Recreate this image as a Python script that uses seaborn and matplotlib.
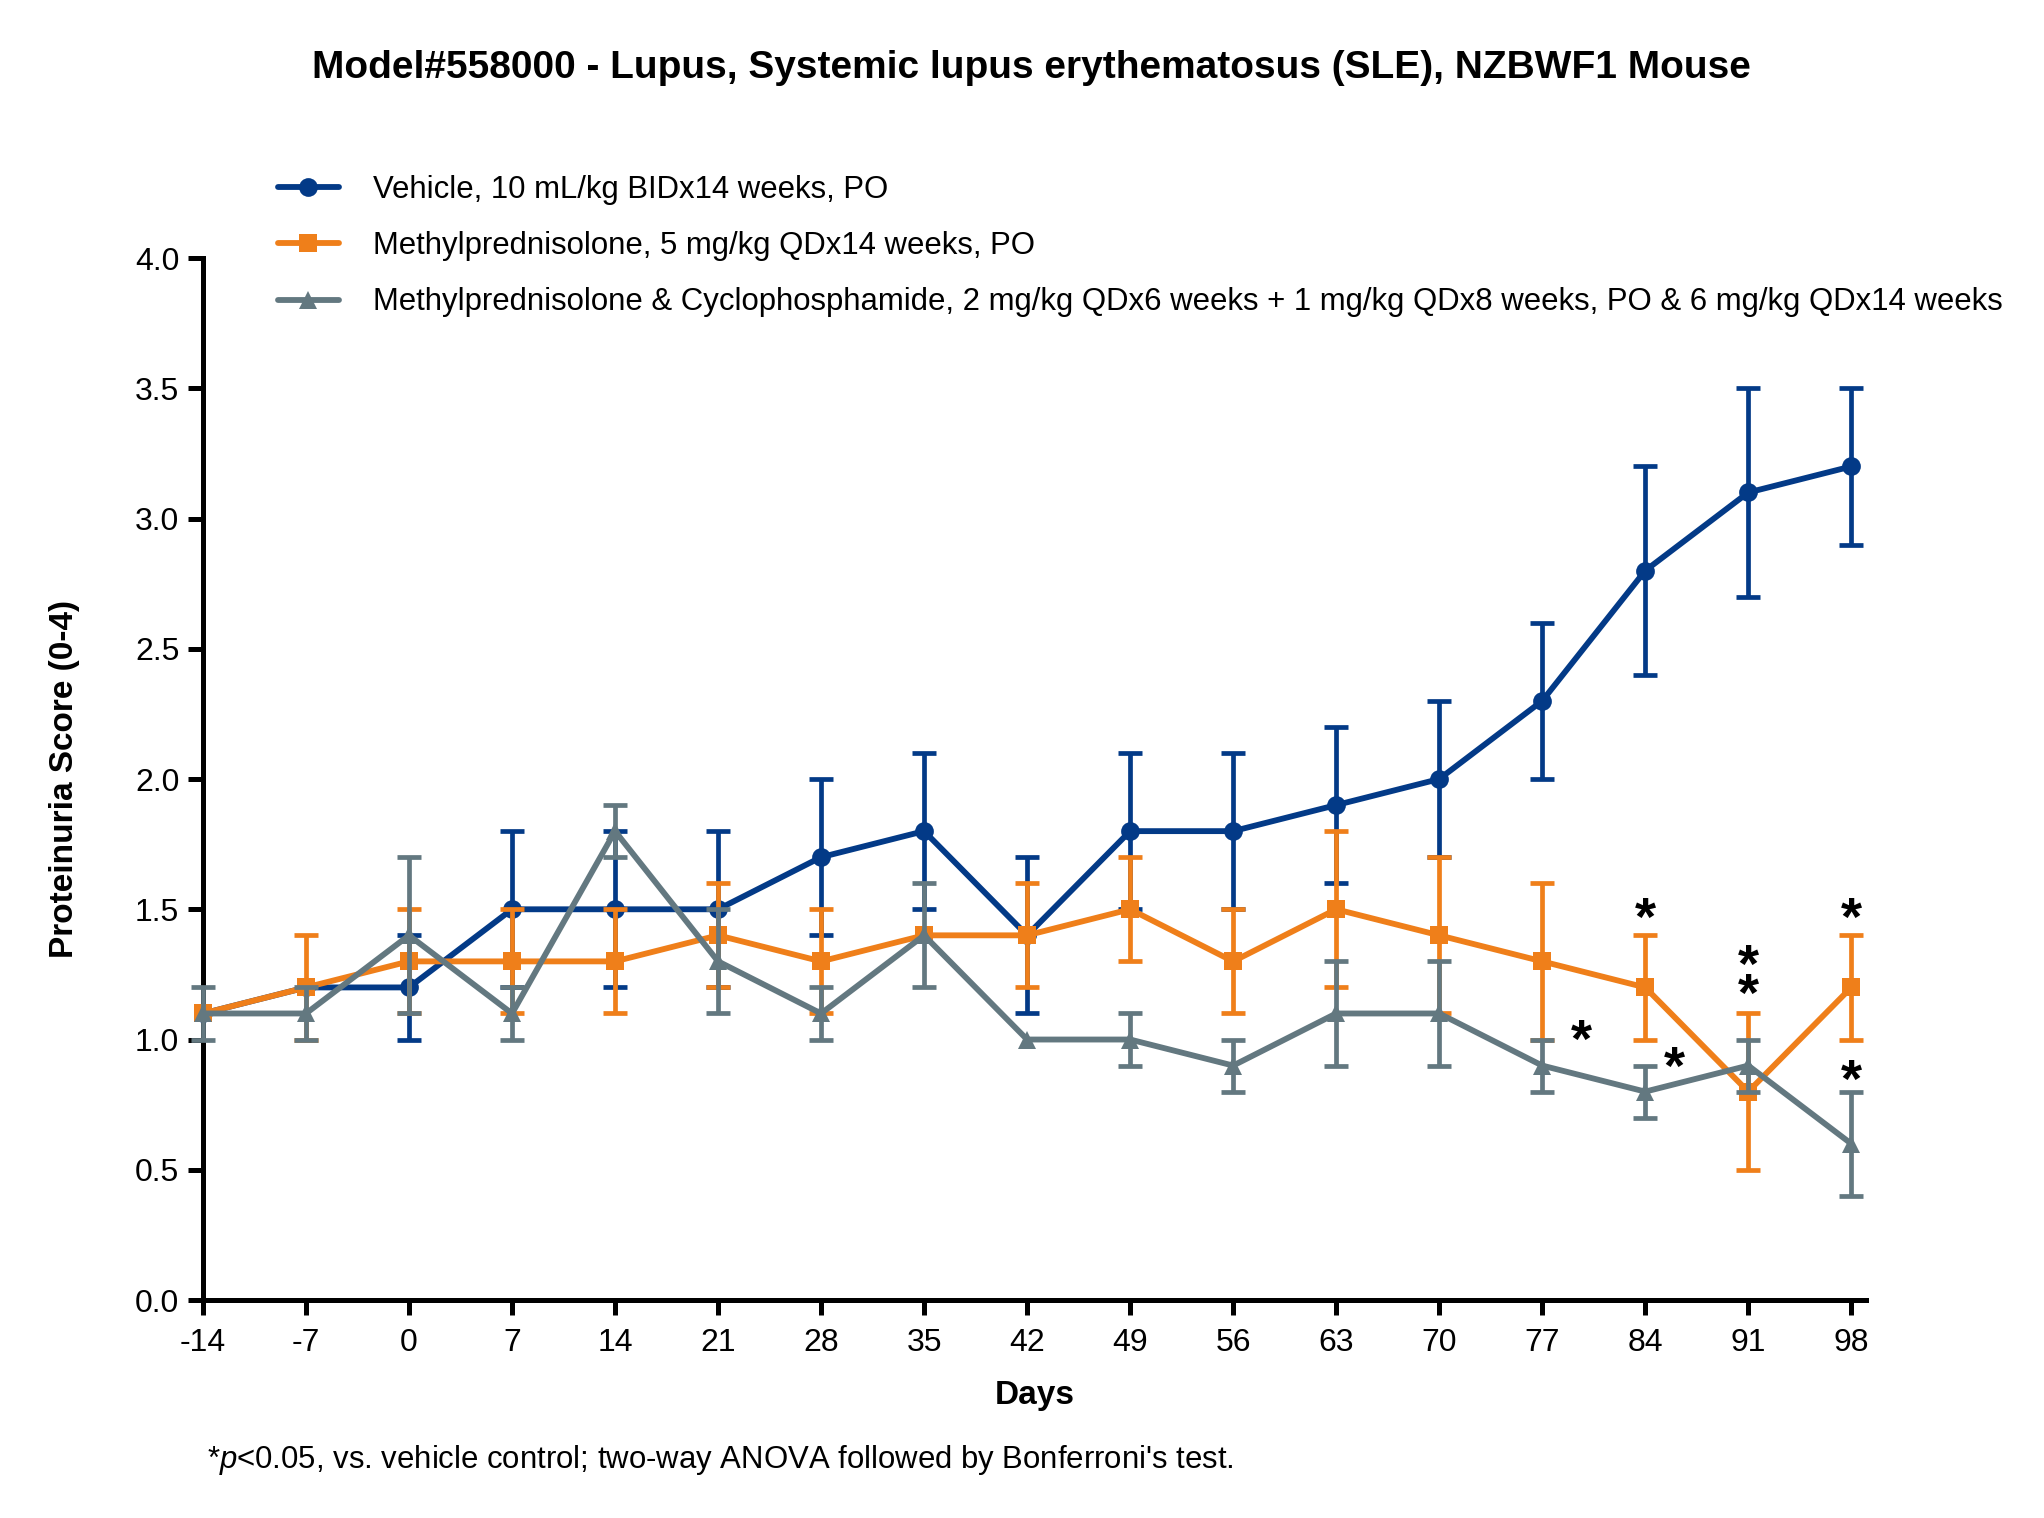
import numpy as np
import matplotlib
matplotlib.use("Agg")
import matplotlib.pyplot as plt
import seaborn as sns

# Data
days = [-14, -7, 0, 7, 14, 21, 28, 35, 42, 49, 56, 63, 70, 77, 84, 91, 98]

vehicle_mean = [1.1, 1.2, 1.2, 1.5, 1.5, 1.5, 1.7, 1.8, 1.4, 1.8, 1.8, 1.9, 2.0, 2.3, 2.8, 3.1, 3.2]
vehicle_err = [0, 0, 0.2, 0.3, 0.3, 0.3, 0.3, 0.3, 0.3, 0.3, 0.3, 0.3, 0.3, 0.3, 0.4, 0.4, 0.3]

mp_mean = [1.1, 1.2, 1.3, 1.3, 1.3, 1.4, 1.3, 1.4, 1.4, 1.5, 1.3, 1.5, 1.4, 1.3, 1.2, 0.8, 1.2]
mp_err = [0, 0.2, 0.2, 0.2, 0.2, 0.2, 0.2, 0, 0.2, 0.2, 0.2, 0.3, 0.3, 0.3, 0.2, 0.3, 0.2]

combo_mean = [1.1, 1.1, 1.4, 1.1, 1.8, 1.3, 1.1, 1.4, 1.0, 1.0, 0.9, 1.1, 1.1, 0.9, 0.8, 0.9, 0.6]
combo_err = [0.1, 0.1, 0.3, 0.1, 0.1, 0.2, 0.1, 0.2, 0, 0.1, 0.1, 0.2, 0.2, 0.1, 0.1, 0.1, 0.2]

labels = [
    "Vehicle, 10 mL/kg BIDx14 weeks, PO",
    "Methylprednisolone, 5 mg/kg QDx14 weeks, PO",
    "Methylprednisolone & Cyclophosphamide, 2 mg/kg QDx6 weeks + 1 mg/kg QDx8 weeks, PO & 6 mg/kg QDx14 weeks",
]
colors = ["#033a87", "#ef7f1a", "#637880"]
markers = ["o", "s", "^"]

# significance stars (day, score level)
star_days = [84, 91, 91, 98, 79.7, 86, 98]
star_vals = [1.49, 1.31, 1.20, 1.49, 1.025, 0.92, 0.87]

sns.set_style("ticks")
plt.rcParams["font.family"] = ["Liberation Sans", "DejaVu Sans"]
plt.rcParams["mathtext.fontset"] = "custom"
plt.rcParams["mathtext.it"] = "Liberation Sans:italic"
plt.rcParams["mathtext.rm"] = "Liberation Sans"
for key in ["text.color", "axes.labelcolor", "xtick.color", "ytick.color", "axes.edgecolor"]:
    plt.rcParams[key] = "black"

fig = plt.figure(figsize=(20.44, 15.18), dpi=100)
ax = fig.add_axes([0.0993, 0.1436, 0.8136, 0.6864])

series = [(vehicle_mean, vehicle_err), (mp_mean, mp_err), (combo_mean, combo_err)]
for i, (mean, err) in enumerate(series):
    err = np.array(err, dtype=float)
    err[err == 0] = np.nan
    ax.errorbar(days, mean, yerr=err, fmt="none", ecolor=colors[i], elinewidth=3.4,
                capsize=8.5, capthick=3.4, zorder=3 + 2 * i, clip_on=False, label="_nolegend_")
    sns.lineplot(x=days, y=mean, ax=ax, color=colors[i], marker=markers[i], markersize=13.5,
                 markeredgewidth=0, linewidth=4.2, label=labels[i], zorder=4 + 2 * i,
                 clip_on=False, errorbar=None)

for d, v in zip(star_days, star_vals):
    ax.text(d, v - 0.09, "*", ha="center", va="baseline", fontsize=39, fontweight="bold", color="black")

ax.set_xlim(-14, 99)
ax.set_ylim(0, 4)
ax.set_xticks(days)
ax.set_xticklabels([str(d) for d in days])
ax.set_yticks(np.arange(0, 4.01, 0.5))
ax.set_yticklabels([f"{t:.1f}" for t in np.arange(0, 4.01, 0.5)])
sns.despine(ax=ax)
for s in ["left", "bottom"]:
    ax.spines[s].set_linewidth(3.6)
ax.tick_params(axis="both", width=3.6, length=11, labelsize=23)
ax.tick_params(axis="x", pad=9)
ax.tick_params(axis="y", pad=6)

ax.set_xlabel("Days", fontsize=24, fontweight="bold", va="center")
ax.xaxis.set_label_coords(0.5, -0.092)
ax.set_ylabel("Proteinuria Score (0-4)", fontsize=24, fontweight="bold", va="center")
ax.yaxis.set_label_coords(-0.083, 0.5)

handles, labs = ax.get_legend_handles_labels()
if ax.get_legend() is not None:
    ax.get_legend().remove()
fig.legend(handles, labs, loc="center left", bbox_to_anchor=(278 / 2044, 1 - 246 / 1518),
           frameon=False, fontsize=22.4, handlelength=1.95, handletextpad=1.1,
           labelspacing=0.85, borderpad=0, borderaxespad=0, numpoints=1)

fig.text(0.5045, 1 - 68 / 1518, "Model#558000 - Lupus, Systemic lupus erythematosus (SLE), NZBWF1 Mouse",
         ha="center", va="center", fontsize=28, fontweight="bold")
fig.text(207 / 2044, 1 - 1460 / 1518,
         r"*$\mathit{p}$<0.05, vs. vehicle control; two-way ANOVA followed by Bonferroni's test.",
         ha="left", va="center", fontsize=22.4)

fig.savefig("out.png", dpi=100)
